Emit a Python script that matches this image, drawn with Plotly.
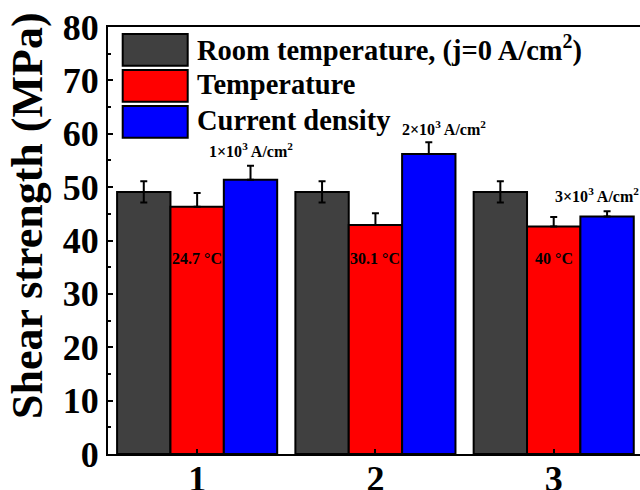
import plotly.graph_objects as go

groups = [1, 2, 3]
series_names = ["Room temperature, (j=0 A/cm<sup>2</sup>)", "Temperature", "Current density"]
room_vals = [49.1, 49.1, 49.1]
room_err = [2.0, 2.0, 2.0]
temp_vals = [46.3, 42.9, 42.6]
temp_err = [2.6, 2.2, 1.8]
curr_vals = [51.4, 56.2, 44.5]
curr_err = [2.6, 2.2, 1.0]
temp_labels = ["24.7 °C", "30.1 °C", "40 °C"]
curr_labels = ["1×10<sup>3</sup> A/cm<sup>2</sup>", "2×10<sup>3</sup> A/cm<sup>2</sup>", "3×10<sup>3</sup> A/cm<sup>2</sup>"]
colors = ["#404040", "#FF0000", "#0000FF"]

FONT = "Liberation Serif, Times New Roman, serif"

W, H = 640, 490
L, R, T, B = 108, 0, 27, 36

def bf(size):
    return dict(family=FONT, size=size, color="black", weight="bold")

fig = go.Figure()
vals = [room_vals, temp_vals, curr_vals]
plus = [room_err, temp_err, curr_err]
minus = [room_err, [0, 0, 0], [0, 0, 0]]
for name, v, ep, em, c in zip(series_names, vals, plus, minus, colors):
    fig.add_trace(go.Bar(
        x=groups, y=v, name=name, showlegend=False,
        marker=dict(color=c, line=dict(color="black", width=2)),
        error_y=dict(type="data", array=ep, arrayminus=em, symmetric=False,
                     color="black", thickness=2, width=3.5),
    ))

bar_w = (1 - 0.102) / 3
# temperature labels inside red bars
for g, t in zip(groups, temp_labels):
    fig.add_annotation(x=g, y=36.6, xref="x", yref="y", text=t, showarrow=False,
                       font=bf(16))
# current density labels
curr_lab_y = [56.9, 61.0, 48.5]
curr_lab_dx = [0.0, 0.085, -0.055]
for g, t, yy, dx in zip(groups, curr_labels, curr_lab_y, curr_lab_dx):
    fig.add_annotation(x=g + bar_w + dx, y=yy, xref="x", yref="y", text=t, showarrow=False,
                       font=bf(16))

# manual legend with large swatches
pw, ph = W - L - R, H - T - B
def px_x(p):
    return (p - L) / pw
def px_y(p):
    return (H - B - p) / ph
rows = [(34, 65.7), (70, 101.7), (106, 137.7)]
for (y0, y1), c, name in zip(rows, colors, series_names):
    fig.add_shape(type="rect", xref="paper", yref="paper",
                  x0=px_x(122.7), x1=px_x(187.7), y0=px_y(y1), y1=px_y(y0),
                  fillcolor=c, line=dict(color="black", width=2))
    fig.add_annotation(xref="paper", yref="paper", x=px_x(195), y=px_y((y0 + y1) / 2 - 1),
                       xanchor="left", yanchor="middle", text=name, showarrow=False,
                       font=bf(28.5))

# y axis title
fig.add_annotation(xref="paper", yref="paper", x=px_x(27), y=px_y(216),
                   xanchor="center", yanchor="middle", textangle=-90,
                   text="Shear strength (MPa)", showarrow=False,
                   font=bf(44))

fig.update_layout(
    width=W, height=H, margin=dict(l=L, r=R, t=T, b=B, autoexpand=False),
    template="none", paper_bgcolor="white", plot_bgcolor="white",
    barmode="group", bargap=0.102, bargroupgap=0,
    font=bf(36),
)
fig.update_xaxes(range=[0.5, 3.484], tickvals=groups, ticktext=[str(g) for g in groups],
                 ticks="inside", ticklen=5, tickwidth=2, tickcolor="black",
                 showline=True, linewidth=2, linecolor="black", mirror=True,
                 showgrid=False, zeroline=False, automargin=False,
                 ticklabelstandoff=-8,
                 tickfont=bf(36))
fig.update_yaxes(range=[0, 80], dtick=10, tick0=0,
                 ticks="inside", ticklen=5, tickwidth=2, tickcolor="black",
                 minor=dict(dtick=5, ticks="inside", ticklen=3, tickwidth=2, tickcolor="black"),
                 showline=True, linewidth=2, linecolor="black", mirror=False,
                 showgrid=False, zeroline=False, automargin=False,
                 tickfont=bf(36))

fig.write_html("out.html")
